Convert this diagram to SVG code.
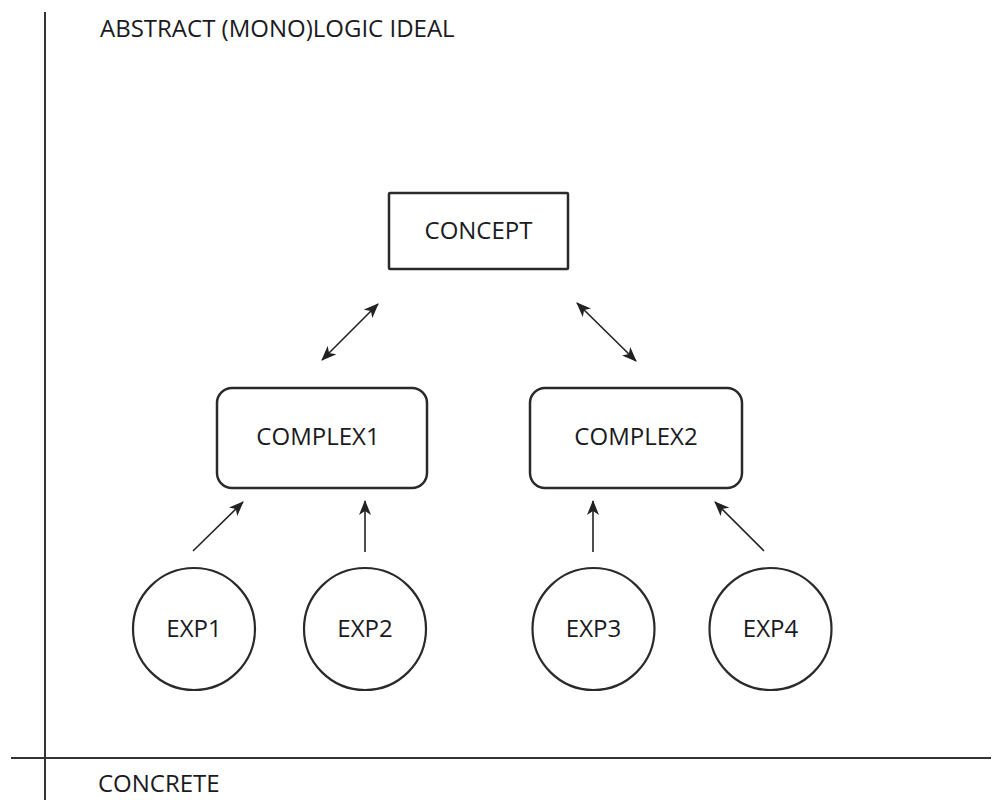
<svg xmlns="http://www.w3.org/2000/svg" width="992" height="800" viewBox="0 0 992 800">
<style>
  .lbl { font-family: "Open Sans", "Liberation Sans", Arial, sans-serif; font-size: 24px; fill: #1a1a22; }
  .mid { text-anchor: middle; }
  .box { fill: #ffffff; stroke: #2a2a2a; stroke-width: 2.5; }
  .circ { fill: #ffffff; stroke: #2a2a2a; stroke-width: 2.2; }
  .axis { stroke: #333333; stroke-width: 2; fill: none; }
  .conn { stroke: #222222; stroke-width: 1.6; fill: none; }
</style>
<defs>
  <marker id="ah" markerUnits="userSpaceOnUse" markerWidth="16" markerHeight="12" refX="14" refY="6" orient="auto-start-reverse" viewBox="0 0 16 12">
    <path d="M0,0 L15,6 L0,12 L4,6 z" fill="#222222"/>
  </marker>
</defs>
<rect width="992" height="800" fill="#ffffff"/>

<g id="axes">
  <line class="axis" x1="45" y1="12" x2="45" y2="800"/>
  <line class="axis" x1="11" y1="758" x2="991" y2="758"/>
  <text class="lbl" x="100" y="37">ABSTRACT (MONO)LOGIC IDEAL</text>
  <text class="lbl" x="98" y="792" font-size="23">CONCRETE</text>
</g>

<g id="connectors">
  <line class="conn" x1="322" y1="360" x2="378" y2="304" marker-start="url(#ah)" marker-end="url(#ah)"/>
  <line class="conn" x1="577" y1="303" x2="636" y2="361" marker-start="url(#ah)" marker-end="url(#ah)"/>
  <line class="conn" x1="193" y1="551" x2="243" y2="502" marker-end="url(#ah)"/>
  <line class="conn" x1="365" y1="552" x2="365" y2="501" marker-end="url(#ah)"/>
  <line class="conn" x1="593" y1="552" x2="593" y2="501" marker-end="url(#ah)"/>
  <line class="conn" x1="764" y1="551" x2="715" y2="502" marker-end="url(#ah)"/>
</g>

<g id="concept">
  <rect class="box" x="389" y="193" width="179" height="76" rx="1"/>
  <text class="lbl mid" x="478.5" y="239">CONCEPT</text>
</g>

<g id="complex1">
  <rect class="box" x="217" y="388" width="210" height="100" rx="15"/>
  <text class="lbl mid" x="318" y="445">COMPLEX1</text>
</g>

<g id="complex2">
  <rect class="box" x="530" y="388" width="212" height="100" rx="15"/>
  <text class="lbl mid" x="636" y="445">COMPLEX2</text>
</g>

<g id="exp1">
  <circle class="circ" cx="194" cy="629" r="61"/>
  <text class="lbl mid" x="194" y="637">EXP1</text>
</g>

<g id="exp2">
  <circle class="circ" cx="365" cy="629" r="61"/>
  <text class="lbl mid" x="365" y="637">EXP2</text>
</g>

<g id="exp3">
  <circle class="circ" cx="593.5" cy="629" r="61"/>
  <text class="lbl mid" x="593.5" y="637">EXP3</text>
</g>

<g id="exp4">
  <circle class="circ" cx="770.5" cy="629" r="61"/>
  <text class="lbl mid" x="770.5" y="637">EXP4</text>
</g>
</svg>
